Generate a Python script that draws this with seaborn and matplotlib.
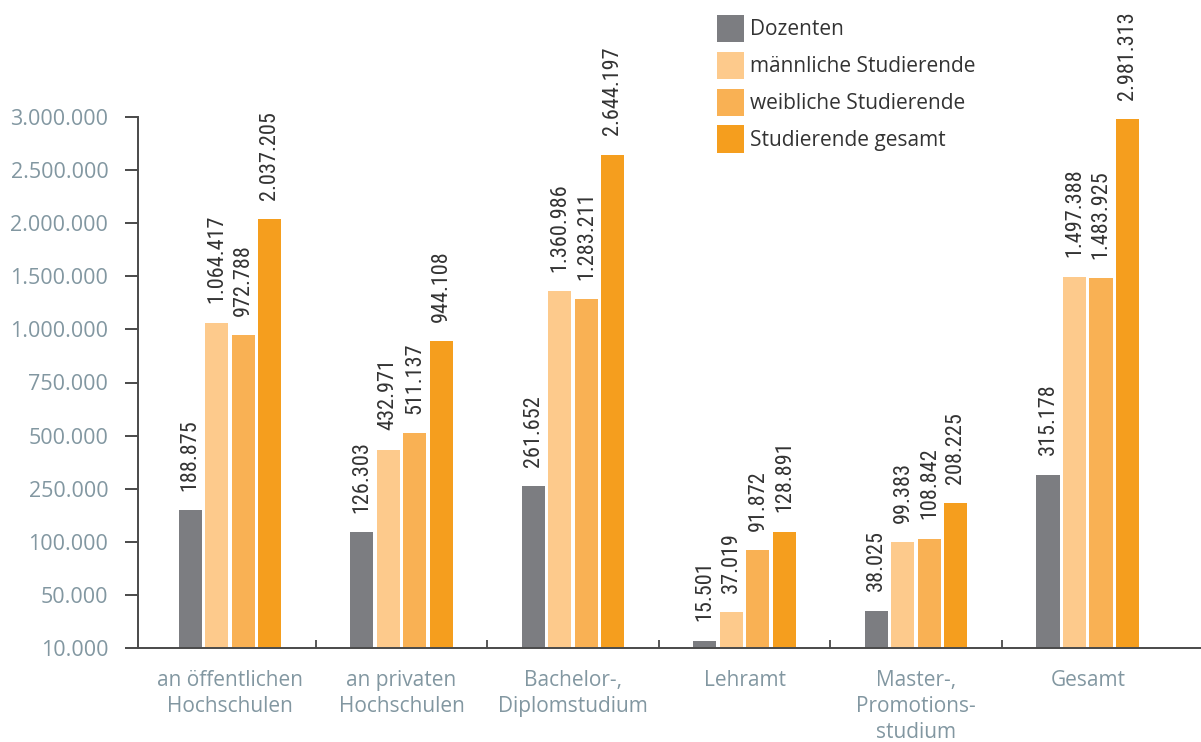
import numpy as np
import pandas as pd
import matplotlib
matplotlib.use("Agg")
import matplotlib.pyplot as plt
from matplotlib import font_manager
import seaborn as sns

# --- data -------------------------------------------------------------
categories = [
    "an öffentlichen\nHochschulen",
    "an privaten\nHochschulen",
    "Bachelor-,\nDiplomstudium",
    "Lehramt",
    "Master-,\nPromotions-\nstudium",
    "Gesamt",
]
series_names = [
    "Dozenten",
    "männliche Studierende",
    "weibliche Studierende",
    "Studierende gesamt",
]
dozenten = [188875, 126303, 261652, 15501, 38025, 315178]
maennlich = [1064417, 432971, 1360986, 37019, 99383, 1497388]
weiblich = [972788, 511137, 1283211, 91872, 108842, 1483925]
gesamt = [2037205, 944108, 2644197, 128891, 208225, 2981313]

tick_values = [10000, 50000, 100000, 250000, 500000, 750000,
               1000000, 1500000, 2000000, 2500000, 3000000]

colors = ["#7c7d81", "#fdca8c", "#f9b154", "#f59e1e"]

# --- long-form table ----------------------------------------------------
values = [dozenten, maennlich, weiblich, gesamt]
df = pd.DataFrame({
    "Kategorie": np.tile(categories, len(series_names)),
    "Gruppe": np.repeat(series_names, len(categories)),
    "Anzahl": np.concatenate(values),
})


def de_format(v):
    return f"{int(v):,}".replace(",", ".")


# piecewise-linear axis: every tick value gets the same spacing
tick_pos = np.arange(len(tick_values), dtype=float)


def fwd(v):
    return np.interp(v, tick_values, tick_pos)


def inv(p):
    return np.interp(p, tick_pos, tick_values)


# a narrow face for the rotated value labels, if one is installed
installed = {(f.name, f.stretch) for f in font_manager.fontManager.ttflist}
installed_names = {n for n, _ in installed}
value_font = dict(family=["Roboto", "DejaVu Sans"], fontsize=13.5)
for name in ("Liberation Sans Narrow", "Roboto Condensed", "Open Sans Condensed"):
    if name in installed_names:
        value_font = dict(family=[name, "DejaVu Sans"], fontsize=16)
        break
else:
    if any(n == "DejaVu Sans" and s == "condensed" for n, s in installed):
        value_font = dict(family=["DejaVu Sans"], fontstretch="condensed",
                          fontsize=14.5)

sns.set_theme(style="white")
plt.rcParams["font.family"] = ["Open Sans", "DejaVu Sans"]

fig = plt.figure(figsize=(12.01, 7.42), dpi=100)
ax = fig.add_axes([138 / 1201, 1 - 648 / 742, 1 - 138 / 1201, (648 - 117) / 742])

sns.barplot(
    data=df, x="Kategorie", y="Anzahl", hue="Gruppe",
    order=categories, hue_order=series_names,
    palette=dict(zip(series_names, colors)),
    width=0.618, gap=0.13, linewidth=0, saturation=1,
    ax=ax, legend=True,
)

ax.set_yscale("function", functions=(fwd, inv))
ax.set_ylim(tick_values[0], tick_values[-1])
ax.set_xlim(-0.536, 5.66)

ax.set_yticks(tick_values)
ax.set_yticklabels([de_format(v) for v in tick_values])
ax.yaxis.set_minor_locator(matplotlib.ticker.NullLocator())
ax.tick_params(axis="y", which="major", length=9.4, width=1.4, color="#4a4a4a",
               pad=12, labelsize=15.5, labelcolor="#8297a1", left=True)

# category labels, separators between groups
ax.set_xticks(range(len(categories)))
ax.set_xticklabels(categories, linespacing=1.3)
ax.tick_params(axis="x", which="major", length=0, pad=16, labelsize=15,
               labelcolor="#8297a1")
ax.set_xticks(np.arange(len(categories) - 1) + 0.5, minor=True)
ax.tick_params(axis="x", which="minor", direction="in", length=6,
               width=1.3, color="#4a4a4a", bottom=True)

for side in ("top", "right"):
    ax.spines[side].set_visible(False)
for side in ("left", "bottom"):
    ax.spines[side].set_color("#4a4a4a")
    ax.spines[side].set_linewidth(1.4)

ax.set_xlabel("")
ax.set_ylabel("")

# value labels above every bar
for cont, vals in zip(ax.containers, values):
    ax.bar_label(cont, labels=[de_format(v) for v in vals], rotation=90,
                 padding=14, color="#333333", **value_font)

handles, labels = ax.get_legend_handles_labels()
ax.legend(
    handles, labels, loc="upper left",
    bbox_to_anchor=(717 / 1201, 1 - 15 / 742), bbox_transform=fig.transFigure,
    frameon=False, borderpad=0, borderaxespad=0,
    handlelength=1.3, handleheight=1.62, handletextpad=0.3,
    labelspacing=0.47, fontsize=15, labelcolor="#333333",
)

fig.savefig("out.png", dpi=100)
